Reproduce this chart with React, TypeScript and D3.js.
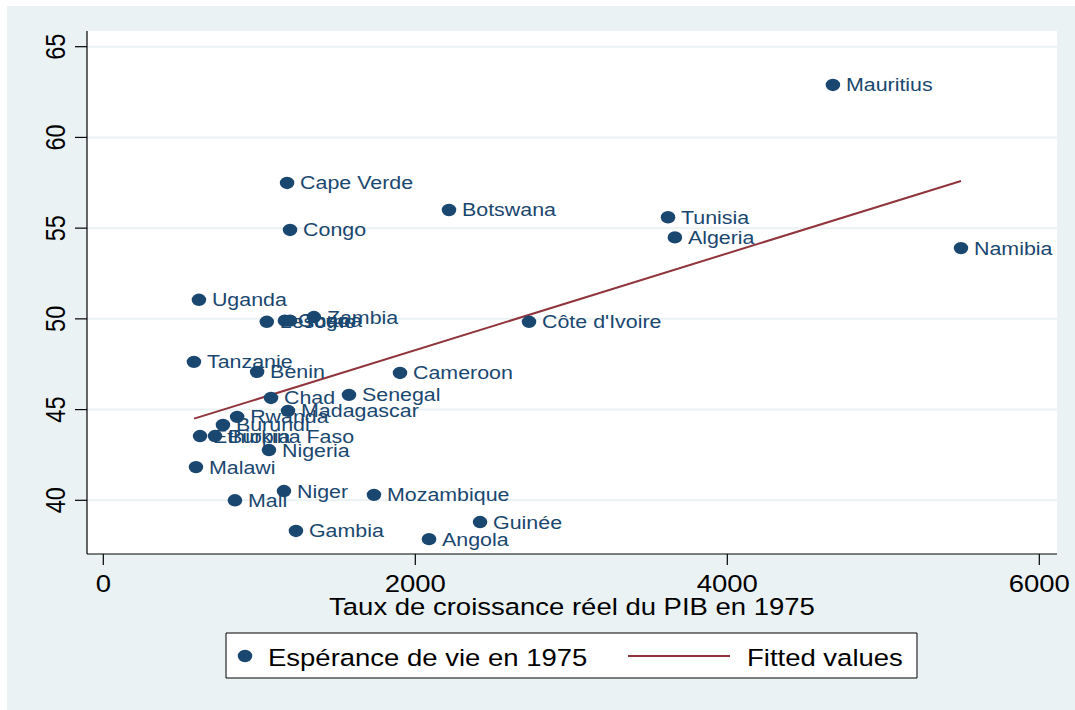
import React from "react";
import * as d3 from "d3";

const countries = [
  "Mauritius", "Cape Verde", "Botswana", "Tunisia", "Algeria", "Namibia", "Congo",
  "Uganda", "Lesotho", "Ghana", "Togo", "Zambia", "Côte d'Ivoire", "Tanzanie",
  "Benin", "Cameroon", "Senegal", "Chad", "Madagascar", "Rwanda", "Burundi",
  "Ethiopia", "Burkina Faso", "Nigeria", "Malawi", "Mali", "Niger", "Mozambique",
  "Gambia", "Guinée", "Angola",
];
const gdp = [
  4677, 1178, 2216, 3620, 3664, 5498, 1197,
  613, 1048, 1164, 1197, 1350, 2729, 581,
  986, 1902, 1575, 1075, 1184, 858, 767,
  620, 716, 1062, 594, 844, 1158, 1735,
  1235, 2415, 2088,
];
const lifeExp = [
  62.89, 57.49, 56.0, 55.6, 54.49, 53.9, 54.9,
  51.05, 49.84, 49.9, 49.9, 50.1, 49.84, 47.63,
  47.08, 47.02, 45.81, 45.64, 44.93, 44.6, 44.15,
  43.54, 43.54, 42.77, 41.83, 40.0, 40.51, 40.3,
  38.31, 38.8, 37.86,
];
const fitX = [582, 5498];
const fitY = [44.5, 57.6];
const xTicks = [0, 2000, 4000, 6000];
const yTicks = [40, 45, 50, 55, 60, 65];
const xTitle = "Taux de croissance réel du PIB en 1975";
const legendLabels = ["Espérance de vie en 1975", "Fitted values"];

const S = 1.17; // horizontal stretch of the reference
const W = 1075 / S;
const H = 710;
const X = (px: number) => px / S;

const NAVY = "#1a476f";
const MAROON = "#90353b";
const BG = "#eaf2f3";
const FONT = "Arial, 'Liberation Sans', Helvetica, sans-serif";

export default function App() {
  const plotL = X(87), plotR = X(1057), plotT = 31, plotB = 554;
  const x = d3.scaleLinear().domain([0, 6000]).range([X(103.3), X(1039.3)]);
  const y = d3.scaleLinear().domain([40, 65]).range([500.3, 46.7]);
  const line = d3.line<number>().x((d) => x(fitX[d])).y((d) => y(fitY[d]));
  const ns = { vectorEffect: "non-scaling-stroke" as const };

  return (
    <svg
      width={1075}
      height={710}
      viewBox={`0 0 ${W} ${H}`}
      preserveAspectRatio="none"
      style={{ position: "absolute", left: 0, top: 0, display: "block" }}
      fontFamily={FONT}
    >
      <rect x={0} y={0} width={W} height={H} fill="#ffffff" />
      <rect x={X(7)} y={6} width={W - X(7)} height={H - 6} fill={BG} />
      <rect x={plotL} y={plotT} width={plotR - plotL} height={plotB - plotT} fill="#ffffff" />
      {yTicks.map((t) => (
        <line key={"g" + t} x1={plotL} x2={plotR} y1={y(t)} y2={y(t)} stroke={BG} strokeWidth={2} style={ns} />
      ))}
      {/* axes */}
      <line x1={plotL} x2={plotL} y1={plotT} y2={plotB} stroke="#000" strokeWidth={1.2} style={ns} />
      <line x1={plotL} x2={plotR} y1={plotB} y2={plotB} stroke="#000" strokeWidth={1.2} style={ns} />
      {yTicks.map((t) => (
        <g key={"y" + t}>
          <line x1={X(75)} x2={plotL} y1={y(t)} y2={y(t)} stroke="#000" strokeWidth={1.2} style={ns} />
          <text
            transform={`translate(${X(65)},${y(t)}) rotate(-90)`}
            textAnchor="middle"
            fontSize={23.5}
            fill="#000"
          >
            {t}
          </text>
        </g>
      ))}
      {xTicks.map((t) => (
        <g key={"x" + t}>
          <line x1={x(t)} x2={x(t)} y1={plotB} y2={plotB + 11} stroke="#000" strokeWidth={1.2} style={ns} />
          <text x={x(t)} y={592} textAnchor="middle" fontSize={23.5} fill="#000">
            {t}
          </text>
        </g>
      ))}
      <text x={(plotL + plotR) / 2} y={615} textAnchor="middle" fontSize={23.5} fill="#000">
        {xTitle}
      </text>
      {/* fitted line */}
      <path d={line([0, 1]) || ""} fill="none" stroke={MAROON} strokeWidth={2} style={ns} />
      {/* points */}
      {countries.map((c, i) => (
        <g key={c}>
          <circle cx={x(gdp[i])} cy={y(lifeExp[i])} r={6.2} fill={NAVY} />
          <text x={x(gdp[i]) + X(13)} y={y(lifeExp[i]) + 6.5} fontSize={18.3} fill={NAVY}>
            {c}
          </text>
        </g>
      ))}
      {/* legend */}
      <rect x={X(226)} y={633} width={X(917) - X(226)} height={45} fill="#fff" stroke="#000" strokeWidth={1} style={ns} />
      <circle cx={X(245)} cy={656} r={6.2} fill={NAVY} />
      <text x={X(268)} y={666} fontSize={23.5} fill="#000">{legendLabels[0]}</text>
      <line x1={X(628)} x2={X(730)} y1={656} y2={656} stroke={MAROON} strokeWidth={2} style={ns} />
      <text x={X(747)} y={666} fontSize={23.5} fill="#000">{legendLabels[1]}</text>
    </svg>
  );
}
